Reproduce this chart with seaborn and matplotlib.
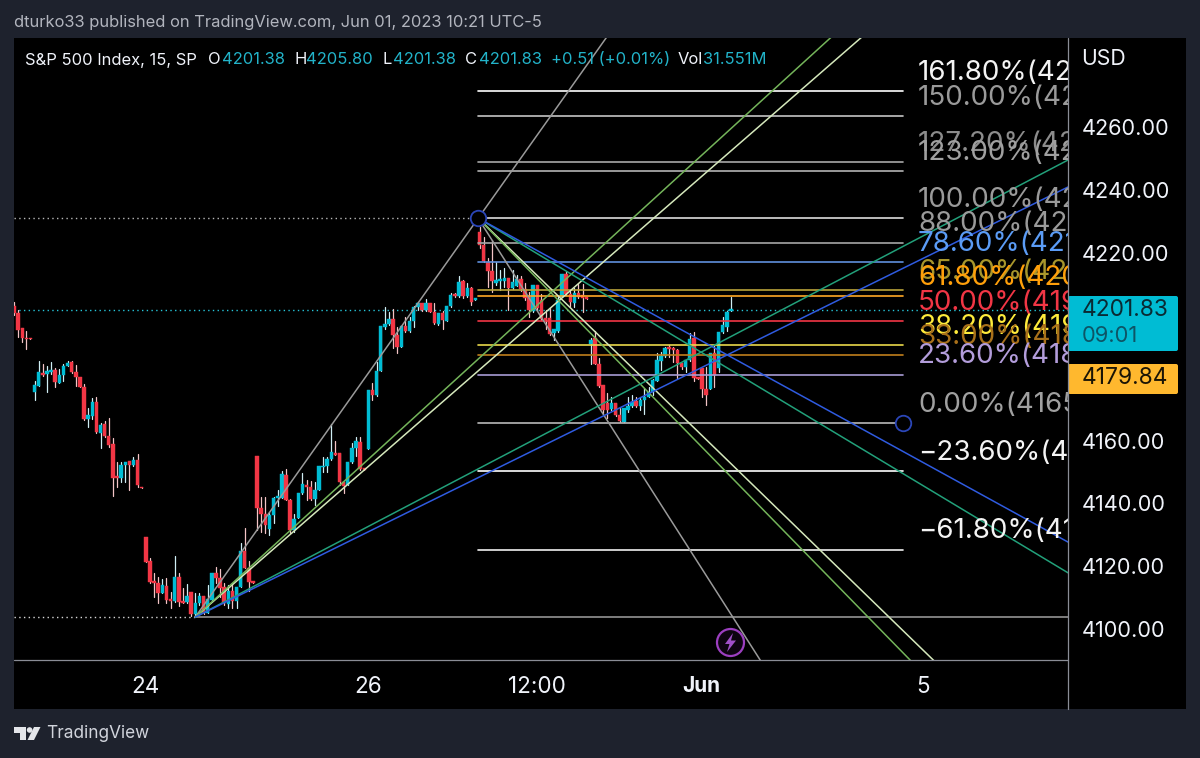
import numpy as np
import pandas as pd
import matplotlib
matplotlib.use("Agg")
import matplotlib.pyplot as plt
from matplotlib.patches import Rectangle, FancyBboxPatch, Polygon, Circle
import seaborn as sns

opens = [
4203.0,4200.8,4195.9,4192.7,4192.7,4175.6,4177.5,4181.6,4181.3,4181.9,
4182.6,4178.5,4181.0,4183.9,4185.1,4181.9,4180.3,4177.2,4167.0,4167.9,
4172.4,4162.5,4165.3,4161.5,4159.0,4148.5,4148.2,4152.3,4153.6,4152.3,
4153.9,4145.1,4129.4,4121.7,4115.0,4114.7,4111.5,4113.7,4109.3,4109.0,
4116.6,4108.7,4108.7,4111.9,4104.8,4108.3,4110.6,4105.1,4109.3,4117.9,
4116.3,4113.4,4108.0,4112.2,4109.0,4113.4,4124.9,4119.5,4115.0,4155.2,
4138.6,4136.7,4131.9,4136.4,4141.8,4141.8,4149.1,4141.1,4131.6,4135.4,
4143.4,4145.9,4145.1,4141.5,4144.3,4151.6,4151.9,4154.2,4156.1,4156.1,
4146.9,4145.9,4153.3,4157.7,4159.6,4151.0,4157.4,4176.2,4174.6,4182.3,
4196.2,4197.2,4198.8,4193.7,4189.9,4196.6,4195.0,4198.2,4202.6,4203.9,
4201.7,4203.9,4201.1,4197.2,4200.8,4198.2,4203.0,4206.8,4206.2,4210.9,
4206.2,4208.7,4204.9,4226.5,4222.4,4217.0,4214.1,4210.3,4210.9,4210.9,
4211.9,4208.7,4209.4,4211.6,4208.4,4205.9,4201.4,4209.7,4204.9,4198.8,
4199.2,4194.3,4195.0,4205.9,4213.1,4206.8,4203.9,4207.1,4206.5,4205.5,
4190.8,4192.7,4184.5,4177.8,4172.0,4170.2,4172.0,4168.2,4166.0,4169.8,
4171.1,4172.7,4171.1,4173.0,4174.0,4175.6,4179.1,4185.5,4187.1,4189.6,
4189.6,4189.0,4184.8,4183.5,4185.8,4192.7,4180.0,4183.2,4176.5,4176.5,
4188.0,4183.2,4194.7,4196.2,4201.38]
closes = [
4200.8,4195.3,4192.7,4192.4,4192.4,4177.8,4181.9,4181.0,4182.3,4182.6,
4178.8,4181.0,4183.9,4184.8,4181.9,4180.3,4177.2,4167.0,4168.2,4172.4,
4162.8,4165.0,4161.5,4158.7,4148.2,4148.2,4152.3,4153.3,4152.3,4153.9,
4145.9,4144.8,4121.4,4115.0,4114.7,4111.5,4114.0,4109.3,4109.0,4116.6,
4108.7,4108.3,4110.6,4104.8,4108.3,4110.6,4105.1,4109.6,4117.9,4116.3,
4113.1,4108.3,4112.2,4109.0,4113.4,4124.9,4119.5,4115.0,4114.7,4138.6,
4136.7,4133.2,4136.4,4141.8,4142.1,4149.4,4141.1,4131.6,4135.1,4143.4,
4146.2,4145.1,4141.5,4144.3,4151.9,4151.9,4154.2,4156.5,4155.5,4146.9,
4145.6,4153.3,4157.7,4159.9,4151.0,4150.7,4176.2,4174.6,4182.3,4196.6,
4197.2,4198.8,4193.7,4189.9,4196.6,4195.0,4198.2,4202.6,4203.9,4201.7,
4203.9,4201.1,4197.6,4200.8,4198.5,4203.0,4206.5,4206.2,4210.6,4206.2,
4208.7,4204.3,4205.2,4222.4,4217.3,4214.1,4210.9,4211.3,4211.6,4211.9,
4208.7,4210.6,4211.6,4208.4,4205.5,4201.7,4209.7,4202.3,4198.8,4198.5,
4194.0,4195.6,4204.9,4213.1,4206.8,4204.3,4207.1,4205.9,4205.5,4205.2,
4192.1,4184.5,4177.5,4169.8,4169.8,4172.0,4168.2,4166.3,4170.4,4171.1,
4172.4,4171.1,4173.0,4174.0,4175.6,4179.4,4185.8,4187.1,4189.6,4189.3,
4189.0,4184.8,4183.5,4185.8,4192.4,4180.0,4179.7,4176.5,4174.6,4188.0,
4181.0,4194.7,4196.9,4201.1,4201.83]
highs = [
4204.3,4201.7,4195.9,4195.0,4192.7,4179.1,4185.5,4184.5,4183.9,4185.1,
4183.2,4182.9,4184.5,4185.5,4185.5,4184.2,4180.3,4178.1,4170.4,4173.6,
4174.0,4165.7,4166.3,4167.3,4160.9,4153.3,4153.3,4153.3,4153.6,4154.9,
4155.8,4145.1,4129.4,4122.7,4117.9,4116.6,4115.9,4116.3,4111.9,4123.3,
4117.9,4113.1,4114.4,4111.9,4111.5,4111.5,4110.6,4114.0,4117.9,4119.8,
4119.2,4114.7,4114.0,4114.7,4113.4,4127.4,4132.2,4121.7,4115.0,4155.2,
4142.1,4142.1,4137.4,4142.1,4144.3,4150.4,4151.0,4141.5,4136.7,4143.4,
4149.7,4147.5,4147.2,4146.9,4151.9,4154.9,4154.9,4165.3,4159.9,4156.1,
4146.9,4153.3,4159.3,4161.2,4161.2,4151.0,4176.2,4178.5,4185.1,4196.6,
4202.6,4201.1,4202.0,4196.2,4196.6,4199.4,4199.4,4202.9,4204.3,4203.9,
4205.2,4203.9,4203.9,4200.8,4201.4,4203.0,4207.1,4207.1,4212.5,4211.3,
4210.3,4209.1,4205.2,4228.1,4224.9,4218.3,4224.0,4217.0,4214.4,4215.0,
4211.9,4214.4,4212.8,4212.5,4210.3,4207.5,4209.7,4209.7,4206.8,4201.7,
4202.3,4195.6,4206.2,4213.1,4213.7,4207.8,4208.7,4209.9,4209.9,4205.5,
4192.7,4195.0,4186.4,4177.8,4175.2,4174.0,4172.0,4170.4,4170.4,4174.0,
4174.6,4174.0,4174.0,4176.8,4177.2,4179.7,4188.0,4188.3,4189.9,4190.5,
4189.9,4189.3,4184.8,4185.8,4194.3,4194.7,4180.0,4183.2,4183.5,4188.0,
4190.5,4194.7,4199.4,4201.4,4205.8]
lows = [
4200.1,4193.1,4191.5,4189.3,4192.4,4173.0,4177.5,4180.7,4175.6,4181.3,
4177.2,4178.5,4179.1,4183.9,4181.6,4177.5,4177.2,4166.6,4164.5,4167.0,
4162.5,4157.7,4161.2,4158.0,4142.4,4145.1,4146.9,4146.9,4144.3,4152.0,
4145.1,4144.8,4121.4,4114.7,4110.2,4108.3,4111.5,4108.3,4106.7,4108.7,
4107.4,4108.3,4108.3,4104.2,4104.2,4107.7,4104.8,4105.1,4109.3,4114.7,
4110.2,4107.7,4106.7,4106.7,4106.7,4113.4,4119.5,4112.2,4114.7,4131.6,
4130.9,4130.6,4130.0,4133.9,4139.2,4141.8,4141.1,4130.6,4130.9,4135.4,
4143.0,4141.1,4141.1,4139.6,4144.3,4149.9,4149.9,4153.9,4155.5,4145.9,
4143.4,4145.9,4153.0,4155.2,4150.7,4150.7,4157.4,4173.0,4174.3,4182.3,
4195.6,4196.9,4189.6,4188.0,4189.9,4194.7,4194.7,4196.2,4201.7,4201.4,
4201.4,4201.1,4197.2,4196.9,4195.6,4198.2,4202.6,4205.9,4205.9,4205.6,
4205.9,4203.3,4204.9,4221.4,4217.0,4209.1,4207.5,4209.7,4208.1,4209.1,
4201.7,4208.4,4209.4,4207.7,4204.9,4199.4,4201.1,4201.7,4198.5,4195.6,
4193.7,4192.1,4194.7,4205.9,4206.5,4203.0,4202.6,4205.5,4201.1,4205.2,
4184.5,4184.5,4177.2,4168.9,4167.3,4169.8,4167.9,4166.0,4166.0,4169.2,
4170.8,4170.8,4169.8,4168.5,4174.0,4174.6,4179.1,4182.6,4186.7,4186.7,
4185.1,4180.0,4182.9,4181.9,4185.5,4179.1,4179.7,4174.0,4171.4,4176.5,
4177.2,4181.9,4194.3,4194.9,4201.38]

fib_pcts = [161.8, 150.0, 127.2, 123.0, 100.0, 88.0, 78.6, 65.0, 61.8, 50.0, 38.2, 33.0, 23.6, 0.0, -23.6, -61.8]
fib_prices = [4271.4, 4263.6, 4248.8, 4246.0, 4231.0, 4223.2, 4217.0, 4208.1, 4206.1, 4198.3, 4190.6, 4187.2, 4181.1, 4165.7, 4150.3, 4125.3]
fib_colors = ["#ffffff", "#c4c4c4", "#a8a8a8", "#b4b4b4", "#dcdcdc", "#a6a6a6", "#5f8fdc", "#b9a33a",
              "#ffa726", "#f23645", "#e9d84a", "#bf7f1c", "#a89cd4", "#b8b8b8", "#ffffff", "#f0f0f0"]
fib_label_colors = ["#f4f4f4", "#9a9a9a", "#8c8c8c", "#a0a0a0", "#9a9a9a", "#9a9a9a", "#5b9cf6", "#a8962c",
                    "#ff9f0a", "#f23645", "#ffeb3b", "#a8701a", "#b39ddb", "#a0a0a0", "#f4f4f4", "#f4f4f4"]

fan_names = ["grey", "pale", "green", "teal", "blue"]
fan_colors = ["#9a9a9a", "#d5e8bc", "#74b45a", "#22a07a", "#2f5be0"]
low_index, low_price = 44.0, 4103.8
high_index, high_price = 112.6, 4231.0
fan_up_end = [4496.0, 4345.9, 4357.5, 4249.5, 4240.9]
fan_down_end = [3936.4, 4048.4, 4038.6, 4117.9, 4127.7]

y_ticks = [4100, 4120, 4140, 4160, 4220, 4240, 4260]
x_ticks = [32.0, 85.9, 126.9, 166.7, 220.6]
x_labels = ["24", "26", "12:00", "Jun", "5"]
last_price = 4201.83
prev_close = 4179.84

UP, DOWN = "#00bcd4", "#f23645"
sns.set_theme(style="dark", rc={"axes.grid": False})
plt.rcParams["font.family"] = ["Inter", "DejaVu Sans"]

W, H = 1200, 758
fig = plt.figure(figsize=(12, 7.58), dpi=100, facecolor="#1e222d")
fig.add_artist(Rectangle((14 / W, 1 - 709 / H), (1186 - 14) / W, (709 - 38) / H,
                         transform=fig.transFigure, fc="black", ec="none", zorder=-5))
ax = fig.add_axes([14 / W, 1 - 660 / H, (1068 - 14) / W, (660 - 38) / H], facecolor="black")
x_right = 255.8
ax.set_xlim(0, x_right)
ax.set_ylim(4090.1, 4288.4)

idx = np.arange(len(opens))
o, c, hi, lo = map(np.array, (opens, closes, highs, lows))
up = c >= o

wicks = pd.DataFrame({
    "i": np.r_[idx, idx], "p": np.r_[lo, hi], "candle": np.r_[idx, idx],
    "dir": np.r_[np.where(up, "up", "down"), np.where(up, "up", "down")]})
sns.lineplot(data=wicks, x="i", y="p", units="candle", hue="dir", estimator=None, sort=False,
             palette={"up": "#cfeef4", "down": "#f3c4c6"}, lw=0.9, legend=False, ax=ax, zorder=2)
heights = np.maximum(np.abs(c - o), 0.5)
body_colors = np.where(up, UP, DOWN)
ax.bar(idx, heights, bottom=np.minimum(o, c), width=0.84, color=body_colors, edgecolor=body_colors, lw=0.3, zorder=2.5)

# dotted guides and horizontal reference
ax.plot([0, x_right], [last_price, last_price], color="#26c6da", lw=1, ls=(0, (1, 2.4)), zorder=1)
ax.plot([0, high_index], [high_price, high_price], color="#b8b8b8", lw=1, ls=(0, (1, 2.4)), zorder=1)
ax.plot([0, low_index], [low_price, low_price], color="#d8d8d8", lw=1, ls=(0, (1, 2.4)), zorder=1)
ax.plot([low_index, x_right], [low_price, low_price], color="#a0a0a0", lw=1.1, zorder=3)

# fib levels
fib_left, fib_right = high_index, 215.8
fib_df = pd.DataFrame({
    "i": [fib_left, fib_right] * len(fib_pcts),
    "p": np.repeat(fib_prices, 2),
    "lvl": np.repeat([str(v) for v in fib_pcts], 2)})
sns.lineplot(data=fib_df, x="i", y="p", hue="lvl", estimator=None, sort=False,
             palette=dict(zip([str(v) for v in fib_pcts], fib_colors)), lw=1.2, legend=False, ax=ax, zorder=3)

# fans
rows = []
for n, e_up, e_dn in zip(fan_names, fan_up_end, fan_down_end):
    rows += [("u" + n, low_index, low_price, n), ("u" + n, x_right, e_up, n),
             ("d" + n, high_index, high_price, n), ("d" + n, x_right, e_dn, n)]
fan_df = pd.DataFrame(rows, columns=["ray", "i", "p", "name"])
sns.lineplot(data=fan_df, x="i", y="p", units="ray", hue="name", estimator=None, sort=False,
             palette=dict(zip(fan_names, fan_colors)), lw=1.1, legend=False, ax=ax, zorder=3.2)

# fib labels, clipped by the price scale as in the reference
for pct, price, col in zip(fib_pcts, fib_prices, fib_label_colors):
    sign = "\u2212" if pct < 0 else ""
    ax.annotate(f"{sign}{abs(pct):.2f}%({price:.2f})", (219.4, price), xytext=(0, 8), textcoords="offset points",
                color=col, fontsize=20, va="baseline", ha="left", annotation_clip=False, clip_on=True, zorder=4)

ax.scatter([high_index, fib_right], [high_price, fib_prices[13]], s=125, facecolor="black",
           edgecolor="#2b46b8", lw=1.3, zorder=5)

ax.set_xlabel("")
ax.set_ylabel("")
ax.yaxis.tick_right()
ax.set_yticks(y_ticks, [f"{v:.2f}" for v in y_ticks])
ax.set_xticks(x_ticks, x_labels)
ax.tick_params(axis="y", length=0, pad=9.8, labelsize=15.6, labelcolor="#f0f3fa")
ax.tick_params(axis="x", length=0, pad=11.6, labelsize=16.2, labelcolor="#f0f3fa")
jun = ax.get_xticklabels()[3]
jun.set_fontweight("bold")
jun.set_fontsize(15)
for s in ax.spines.values():
    s.set_visible(False)

# overlay in picture pixels for chrome
ov = fig.add_axes([0, 0, 1, 1], facecolor="none", zorder=10)
ov.set_xlim(0, W)
ov.set_ylim(H, 0)
ov.axis("off")
ov.plot([1068, 1068], [38, 709], color="#8a8d96", lw=0.9)
ov.plot([14, 1068], [660, 660], color="#8a8d96", lw=0.9)
ov.add_patch(FancyBboxPatch((1068, 296), 110, 55, boxstyle="round,pad=0,rounding_size=2", fc=UP, ec="none"))
ov.add_patch(FancyBboxPatch((1068, 364), 110, 30, boxstyle="round,pad=0,rounding_size=2", fc="#ffb82e", ec="none"))
ov.text(1082, 310.5, f"{last_price:.2f}", color="#0a2a33", fontsize=16.4, va="center")
ov.text(1082, 336, "09:01", color="#0d5566", fontsize=15.8, va="center")
ov.text(1082, 378.5, f"{prev_close:.2f}", color="#1a1405", fontsize=16.4, va="center")
ov.text(1081, 59, "USD", color="#f0f3fa", fontsize=15.2, va="center")

ov.text(14, 22, "dturko33 published on TradingView.com, Jun 01, 2023 10:21 UTC-5", color="#b2b5be",
        fontsize=11.9, va="center")
segments = [(25, "S&P 500 Index, 15, SP", "#f0f3fa"), (208, "O", "#f0f3fa"), (222, "4201.38", "#22b3c9"),
            (295, "H", "#f0f3fa"), (306, "4205.80", "#22b3c9"), (383, "L", "#f0f3fa"), (393, "4201.38", "#22b3c9"),
            (465, "C", "#f0f3fa"), (479, "4201.83", "#22b3c9"), (551, "+0.51 (+0.01%)", "#22b3c9"),
            (678, "Vol", "#f0f3fa"), (703, "31.551M", "#22b3c9")]
for x, t, col in segments:
    ov.text(x, 60, t, color=col, fontsize=11.9, va="center")

# lightning marker
ov.add_patch(Circle((730.5, 642.5), 13.5, fc="#0d0410", ec="#9c3fc0", lw=1.6))
ov.add_patch(Polygon([(733, 633), (725, 644), (729.5, 644), (727, 652), (736, 640.5), (731, 640.5)], fc="#a050c8", ec="none"))

# TradingView logo
ov.add_patch(Polygon([(14, 727), (26, 727), (26, 740), (20, 740), (20, 733), (14, 733)], fc="#e4e6ea", ec="none"))
ov.add_patch(Circle((29.6, 730), 2.8, fc="#e4e6ea", ec="none"))
ov.add_patch(Polygon([(34, 727), (40.5, 727), (34, 740), (27.5, 740)], fc="#e4e6ea", ec="none"))
ov.text(46, 733.5, "TradingView", color="#d1d4dc", fontsize=12.4, va="center")

fig.savefig("out.png", dpi=100, facecolor=fig.get_facecolor())
